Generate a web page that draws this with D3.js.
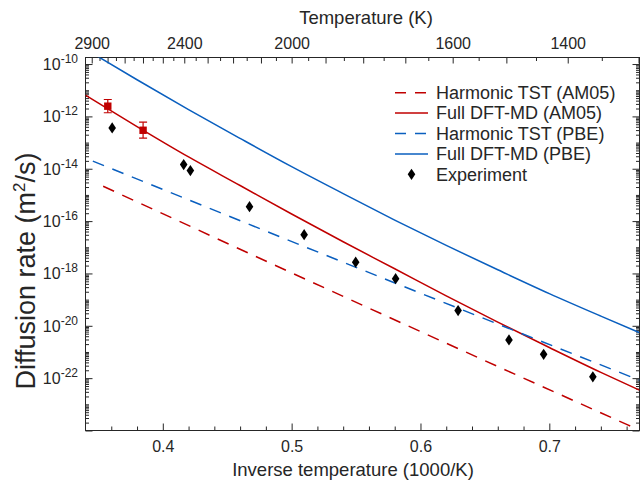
<!DOCTYPE html>
<html>
<head>
<meta charset="utf-8">
<script src="https://cdn.jsdelivr.net/npm/d3@7"></script>
<style>
  body { margin: 0; background: #fff; }
  text { font-family: "Liberation Sans", Arial, Helvetica, sans-serif; fill: #262626; }
</style>
</head>
<body>
<div id="chart-area"></div>
<script>
// inverse temperature (1000/K) and log10 of the diffusion rate (m^2/s)
let fullInvT = [0.34, 0.38, 0.42, 0.46, 0.50, 0.54, 0.58, 0.62, 0.66, 0.70, 0.74, 0.77];
let fullPBE  = [-9.43, -10.60, -11.74, -12.84, -13.92, -14.95, -15.96, -16.93, -17.86, -18.77, -19.63, -20.26];
let fullAM05 = [-11.19, -12.39, -13.55, -14.64, -15.73, -16.79, -17.82, -18.86, -19.86, -20.83, -21.78, -22.46];

let harmPBEInvT = [0.3457, 0.5866, 0.77];
let harmPBE     = [-13.71, -18.49, -22.08];
let harmAM05InvT = [0.3537, 0.5897, 0.7687];
let harmAM05     = [-14.67, -19.99, -23.96];

let mdInvT = [0.3573, 0.3847];
let mdAM05 = [-11.61, -12.53];
let mdLow  = [-11.86, -12.83];
let mdHigh = [-11.355, -12.22];

let expInvT = [0.3607, 0.4162, 0.4214, 0.4673, 0.5097, 0.5497, 0.5807, 0.6292, 0.6687, 0.6956, 0.7338];
let expD    = [-12.44, -13.84, -14.07, -15.45, -16.52, -17.57, -18.20, -19.42, -20.54, -21.09, -21.95];

let xTicks = [0.4, 0.5, 0.6, 0.7];
let tempLabels = [2900, 2400, 2000, 1600, 1400];
let decadeLabels = [-10, -12, -14, -16, -18, -20, -22];

let legendNames = ["Harmonic TST (AM05)", "Full DFT-MD (AM05)", "Harmonic TST (PBE)", "Full DFT-MD (PBE)", "Experiment"];

const red = "#c00000", blue = "#0a5fbf", ink = "#262626";
const W = 642, H = 483;
const L = 85.5, R = 639.5, T = 57.5, B = 430.5;

let svg = d3.select("#chart-area").append("svg")
            .attr("width", W).attr("height", H);

let x = d3.scaleLinear().domain([0.34, 0.77]).range([L, R]);
let y = d3.scaleLog().domain([1e-24, Math.pow(10, -9.75)]).range([B, T]);

svg.append("clipPath").attr("id", "plot")
   .append("rect").attr("x", L).attr("y", T).attr("width", R - L).attr("height", B - T);

// ---- axes ----
function styleAxis(g) {
    g.select(".domain").remove();
    g.selectAll(".tick line").attr("stroke", ink);
    g.selectAll(".tick text").attr("fill", ink).attr("font-size", 16)
     .attr("font-family", "Liberation Sans, Arial, sans-serif");
}

// bottom: minor every 0.02, major every 0.1
let xMinor = d3.range(0.36, 0.771, 0.02).filter(v => !xTicks.some(t => Math.abs(t - v) < 1e-6));
svg.append("g").attr("transform", `translate(0,${B})`)
   .call(d3.axisBottom(x).tickValues(xMinor).tickSize(-4).tickFormat(""))
   .call(styleAxis);
svg.append("g").attr("transform", `translate(0,${B})`)
   .call(d3.axisBottom(x).tickValues(xTicks).tickSize(-7).tickPadding(10).tickFormat(d3.format(".1f")))
   .call(styleAxis);

// top: temperature ticks every 50 K, longer every 100 K
let temps = d3.range(1300, 2901, 50);
svg.append("g").attr("transform", `translate(0,${T})`)
   .call(d3.axisTop(x).tickValues(temps.map(t => 1000 / t))
         .tickSize(0).tickFormat(""))
   .call(styleAxis)
   .call(g => g.selectAll(".tick line")
         .attr("y2", (d) => { let t = Math.round(1000 / d); return t % 100 === 0 ? 6 : 3.5; }));
svg.append("g").attr("transform", `translate(0,${T})`)
   .call(d3.axisTop(x).tickValues(tempLabels.map(t => 1000 / t))
         .tickSize(0).tickPadding(9).tickFormat(d => Math.round(1000 / d)))
   .call(styleAxis);

// left and right: decades and log minor ticks
let decades = d3.range(-24, -9);
let yMinor = [];
decades.forEach(k => { for (let m = 2; m <= 9; m++) { let v = m * Math.pow(10, k); if (v <= y.domain()[1]) yMinor.push(v); } });
decades.filter(k => k % 2 !== 0).forEach(k => yMinor.push(Math.pow(10, k)));
let yMajor = decades.filter(k => k % 2 === 0).map(k => Math.pow(10, k));

[[L, d3.axisLeft], [R, d3.axisRight]].forEach(([pos, ax]) => {
    svg.append("g").attr("transform", `translate(${pos},0)`)
       .call(ax(y).tickValues(yMinor).tickSize(-3.5).tickFormat(""))
       .call(styleAxis);
    svg.append("g").attr("transform", `translate(${pos},0)`)
       .call(ax(y).tickValues(yMajor).tickSize(-7).tickFormat(""))
       .call(styleAxis);
});

// y labels 10^k
let yLab = svg.append("g");
decadeLabels.forEach(k => {
    let t = yLab.append("text").attr("x", 78).attr("y", y(Math.pow(10, k)) + 6)
                .attr("text-anchor", "end").attr("font-size", 16);
    t.append("tspan").text("10");
    t.append("tspan").attr("dy", -7).attr("font-size", 12).text(k);
});

// box
svg.append("rect").attr("x", L).attr("y", T).attr("width", R - L).attr("height", B - T)
   .attr("fill", "none").attr("stroke", ink).attr("stroke-width", 1);

// titles
svg.append("text").attr("x", 353).attr("y", 476).attr("text-anchor", "middle")
   .attr("font-size", 18.5).text("Inverse temperature (1000/K)");
svg.append("text").attr("x", 366).attr("y", 24).attr("text-anchor", "middle")
   .attr("font-size", 18.5).text("Temperature (K)");
let yt = svg.append("text").attr("transform", "translate(35,271) rotate(-90)")
   .attr("text-anchor", "middle").attr("font-size", 27);
yt.append("tspan").text("Diffusion rate (m");
yt.append("tspan").attr("dy", -10).attr("font-size", 17).text("2");
yt.append("tspan").attr("dy", 10).text("/s)");

// ---- curves ----
let plot = svg.append("g").attr("clip-path", "url(#plot)");
let line = d3.line().x(d => x(d[0])).y(d => y(Math.pow(10, d[1]))).curve(d3.curveMonotoneX);

let curves = [
    { xs: harmAM05InvT, ys: harmAM05, color: red,  dash: "12,9" },
    { xs: fullInvT,     ys: fullAM05, color: red,  dash: null },
    { xs: harmPBEInvT,  ys: harmPBE,  color: blue, dash: "12,9" },
    { xs: fullInvT,     ys: fullPBE,  color: blue, dash: null }
];
curves.forEach(c => {
    plot.append("path")
        .datum(c.xs.map((v, i) => [v, c.ys[i]]))
        .attr("d", line)
        .attr("fill", "none")
        .attr("stroke", c.color)
        .attr("stroke-width", 1.5)
        .attr("stroke-dasharray", c.dash);
});

// MD points with error bars
mdInvT.forEach((v, i) => {
    let cx = x(v);
    let y1 = y(Math.pow(10, mdHigh[i])), y2 = y(Math.pow(10, mdLow[i]));
    plot.append("line").attr("x1", cx).attr("x2", cx).attr("y1", y1).attr("y2", y2)
        .attr("stroke", red).attr("stroke-width", 1.2);
    [y1, y2].forEach(yy => plot.append("line").attr("x1", cx - 4).attr("x2", cx + 4)
        .attr("y1", yy).attr("y2", yy).attr("stroke", red).attr("stroke-width", 1.2));
    plot.append("rect").attr("x", cx - 3.7).attr("y", y(Math.pow(10, mdAM05[i])) - 3.7)
        .attr("width", 7.4).attr("height", 7.4).attr("fill", red);
});

// experiment diamonds
let diamond = "M0,-5.6L3.8,0L0,5.6L-3.8,0Z";
plot.selectAll(".exp").data(expInvT).enter().append("path")
    .attr("class", "exp")
    .attr("d", diamond)
    .attr("transform", (d, i) => `translate(${x(d)},${y(Math.pow(10, expD[i]))})`)
    .attr("fill", "#000");

// ---- legend ----
let lg = svg.append("g");
legendNames.forEach((name, i) => {
    let ly = 92.7 + i * 20.4;
    if (i < 4) {
        lg.append("line").attr("x1", 395).attr("x2", 428).attr("y1", ly).attr("y2", ly)
          .attr("stroke", i < 2 ? red : blue).attr("stroke-width", 1.5)
          .attr("stroke-dasharray", i % 2 === 0 ? "11,9" : null);
    } else {
        lg.append("path").attr("d", diamond).attr("transform", `translate(411.5,${ly})`).attr("fill", "#000");
    }
    lg.append("text").attr("x", 436).attr("y", ly).attr("dy", "0.35em")
      .attr("font-size", 18).text(name);
});
</script>
</body>
</html>
